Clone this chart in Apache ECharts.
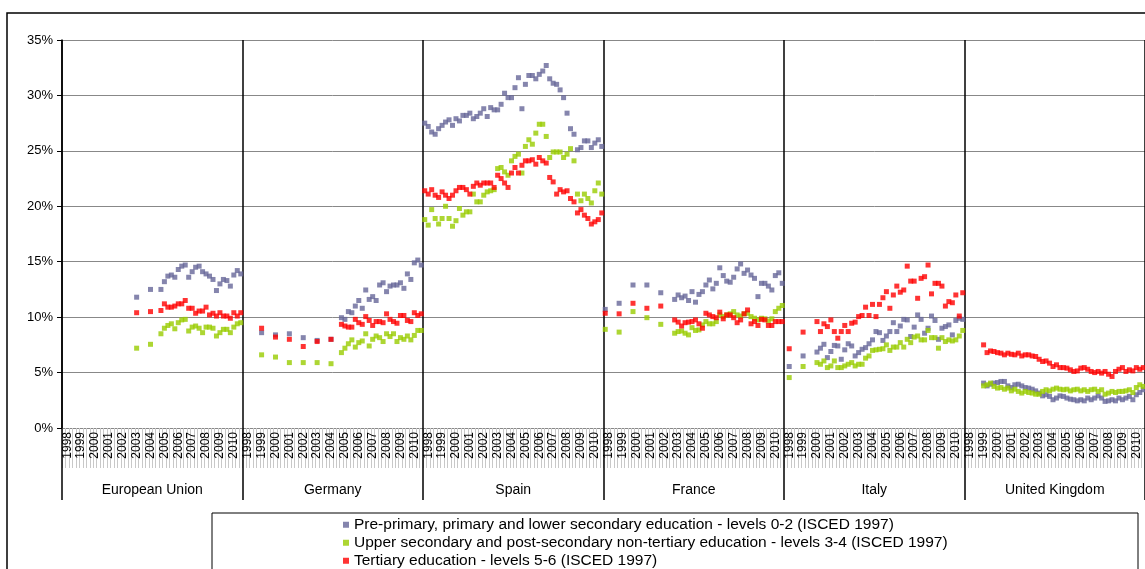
<!DOCTYPE html>
<html>
<head>
<meta charset="utf-8">
<title>Education levels by country</title>
<script src="https://cdn.jsdelivr.net/npm/echarts@6/dist/echarts.min.js"></script>
<style>
  html, body { margin: 0; padding: 0; background: #fff; }
  #chart { width: 1145px; height: 569px; }
</style>
</head>
<body>
<div id="chart"></div>
<script>
const _ = null;

// panels and quarterly axis (1998Q1 - 2010Q4 per panel)
const countries = ["European Union", "Germany", "Spain", "France", "Italy", "United Kingdom"];
const years = ["1998", "1999", "2000", "2001", "2002", "2003", "2004", "2005", "2006", "2007", "2008", "2009", "2010"];
const seriesNames = [
  "Pre-primary, primary and lower secondary education - levels 0-2 (ISCED 1997)",
  "Upper secondary and post-secondary non-tertiary education - levels 3-4 (ISCED 1997)",
  "Tertiary education - levels 5-6 (ISCED 1997)"
];

// values in %, one entry per quarter, _ = no data
const euLow  = [_,_,_,_,_,_,_,_,_,_,_,_,_,_,_,_,_,_,_,_,_, 11.8,_,_,_, 12.5,_,_, 12.5, 13.2, 13.7, 13.8, 13.6, 14.3, 14.6, 14.7, 13.6, 14.1, 14.5, 14.6, 14.1, 13.9, 13.7, 13.4, 12.4, 13.0, 13.4, 13.3, 12.8, 13.8, 14.2, 13.9];
const euMid  = [_,_,_,_,_,_,_,_,_,_,_,_,_,_,_,_,_,_,_,_,_, 7.2,_,_,_, 7.55,_,_, 8.5, 9.0, 9.25, 9.4, 8.95, 9.5, 9.75, 9.8, 8.75, 9.1, 9.2, 9.0, 8.6, 9.1, 9.1, 9.0, 8.3, 8.6, 8.9, 8.9, 8.6, 9.1, 9.4, 9.5];
const euHigh = [_,_,_,_,_,_,_,_,_,_,_,_,_,_,_,_,_,_,_,_,_, 10.4,_,_,_, 10.5,_,_, 10.6, 11.2, 10.9, 10.9, 11.0, 11.2, 11.2, 11.5, 10.8, 10.8, 10.35, 10.55, 10.55, 10.9, 10.2, 10.35, 10.1, 10.4, 10.1, 10.1, 9.9, 10.4, 10.1, 10.4];

const deLow  = [_,_,_,_,_, 8.6,_,_,_, 8.4,_,_,_, 8.5,_,_,_, 8.15,_,_,_, 7.9,_,_,_, 8.0,_,_, 9.95, 9.8, 10.5, 10.4, 11.0, 11.5, 10.8, 12.45, 11.6, 11.85, 11.5, 12.9, 13.1, 12.3, 12.8, 12.9, 12.9, 13.1, 12.6, 13.9, 13.4, 14.9, 15.15, 14.7];
const deMid  = [_,_,_,_,_, 6.6,_,_,_, 6.4,_,_,_, 5.9,_,_,_, 5.9,_,_,_, 5.9,_,_,_, 5.8,_,_, 6.8, 7.2, 7.6, 7.95, 7.3, 7.7, 7.85, 8.5, 7.4, 8.0, 8.3, 8.15, 7.8, 8.5, 8.25, 8.5, 7.8, 8.15, 8.0, 8.3, 7.95, 8.35, 8.8, 8.8];
const deHigh = [_,_,_,_,_, 9.0,_,_,_, 8.2,_,_,_, 8.0,_,_,_, 7.35,_,_,_, 7.8,_,_,_, 8.0,_,_, 9.35, 9.2, 9.1, 9.1, 9.8, 9.5, 9.35, 10.05, 9.7, 9.25, 9.6, 9.6, 9.5, 10.3, 9.8, 9.6, 9.45, 10.15, 10.15, 9.7, 9.6, 10.4, 10.15, 10.3];

const esLow  = [27.5, 27.2, 26.7, 26.5, 27.0, 27.3, 27.6, 27.8, 27.3, 27.9, 27.7, 28.2, 28.2, 28.4, 27.9, 28.1, 28.4, 28.8, 28.1, 28.9, 28.7, 28.7, 29.2, 30.2, 29.8, 29.8, 30.7, 31.6, 28.8, 31.0, 31.8, 31.8, 31.5, 31.9, 32.2, 32.7, 31.5, 31.1, 31.0, 30.5, 29.8, 28.4, 27.0, 26.5, 25.1, 25.3, 25.9, 25.9, 25.3, 25.7, 26.0, 25.4];
const esMid  = [18.8, 18.3, 19.7, 18.9, 18.4, 18.9, 20.0, 18.9, 18.2, 18.7, 19.8, 19.2, 19.5, 19.5, 21.1, 20.4, 20.4, 21.0, 21.3, 21.4, 21.5, 23.4, 23.5, 23.1, 22.8, 24.1, 24.5, 24.7, 23.0, 25.4, 26.0, 25.6, 26.6, 27.4, 27.4, 26.3, 24.4, 24.9, 24.9, 24.9, 24.4, 24.7, 25.2, 24.1, 21.1, 20.5, 21.1, 20.7, 20.3, 21.4, 22.1, 21.1];
const esHigh = [21.4, 21.1, 21.5, 21.0, 20.8, 21.3, 21.0, 20.7, 21.0, 21.4, 21.7, 21.7, 21.5, 21.1, 21.8, 22.1, 21.9, 22.1, 22.1, 22.1, 21.7, 22.8, 22.5, 22.1, 21.7, 23.0, 23.5, 23.0, 23.7, 24.1, 24.1, 24.2, 23.8, 24.4, 24.1, 23.9, 22.6, 22.2, 21.1, 21.5, 21.3, 21.4, 20.7, 20.4, 19.4, 19.7, 19.2, 18.9, 18.4, 18.6, 18.8, 19.4];

const frLow  = [10.7,_,_,_, 11.25,_,_,_, 12.9,_,_,_, 12.9,_,_,_, 12.2,_,_,_, 11.6, 12.0, 11.75, 11.9, 11.5, 12.3, 11.35, 12.05, 12.3, 12.9, 13.35, 12.55, 13.05, 14.45, 13.75, 13.25, 13.15, 13.6, 14.35, 14.8, 13.95, 14.25, 13.8, 13.5, 11.85, 13.05, 13.05, 12.8, 12.45, 13.75, 14.0, 13.05];
const frMid  = [8.9,_,_,_, 8.65,_,_,_, 10.5,_,_,_, 9.95,_,_,_, 9.35,_,_,_, 8.55, 8.7, 8.75, 8.55, 8.4, 9.05, 8.8, 8.85, 9.3, 9.6, 9.4, 9.4, 9.6, 10.2, 10.05, 10.2, 10.3, 10.5, 10.2, 10.1, 10.3, 10.35, 10.05, 9.9, 9.75, 9.9, 9.85, 9.65, 9.85, 10.5, 10.8, 11.05];
const frHigh = [10.35,_,_,_, 10.3,_,_,_, 11.25,_,_,_, 10.8,_,_,_, 11.0,_,_,_, 9.75, 9.55, 9.2, 9.5, 9.55, 9.6, 9.75, 9.4, 9.0, 10.35, 10.2, 10.05, 9.95, 10.45, 9.85, 10.2, 10.2, 9.95, 9.5, 9.75, 10.3, 10.65, 9.4, 9.6, 9.25, 9.8, 9.75, 9.25, 9.25, 9.6, 9.6, 9.6];

const itLow  = [_, 5.55,_,_,_, 6.5,_,_,_, 6.85, 7.2, 7.55, 6.35, 6.9, 7.45, 7.4, 6.2, 7.05, 7.6, 7.4, 6.5, 6.8, 7.1, 7.25, 7.6, 7.95, 8.7, 8.6, 7.9, 8.3, 8.7, 9.5, 8.7, 9.2, 9.8, 9.75, 8.25, 9.1, 10.2, 9.8, 8.55, 9.0, 10.1, 9.7, 8.0, 9.0, 9.15, 9.3, 8.4, 9.7, 9.9, 9.8];
const itMid  = [_, 4.55,_,_,_, 5.55,_,_,_, 5.9, 5.75, 6.05, 5.45, 5.6, 6.05, 5.45, 5.45, 5.6, 5.75, 5.9, 5.6, 5.75, 5.75, 6.3, 6.5, 7.0, 7.05, 7.1, 7.15, 7.5, 7.0, 7.3, 7.3, 7.7, 7.3, 8.0, 7.7, 8.2, 8.3, 7.95, 7.95, 8.8, 8.15, 8.15, 7.2, 8.15, 7.8, 7.95, 7.85, 7.95, 8.3, 8.8];
const itHigh = [_, 7.15,_,_,_, 8.65,_,_,_, 9.6, 8.7, 9.4, 9.15, 9.75, 8.7, 8.1, 8.7, 9.25, 8.7, 9.45, 9.55, 10.05, 10.15, 10.9, 10.15, 11.15, 10.05, 11.15, 11.75, 12.3, 10.8, 12.0, 12.8, 12.25, 12.45, 14.6, 13.25, 13.25, 11.7, 13.5, 13.65, 14.7, 12.1, 13.05, 13.05, 12.8, 11.0, 11.4, 11.3, 12.0, 10.1, 12.2];

const ukLow  = [_,_,_,_,_, 4.05, 3.8, 3.95, 4.05, 4.1, 4.2, 4.2, 3.8, 3.65, 3.9, 3.95, 3.8, 3.65, 3.6, 3.5, 3.35, 3.15, 2.9, 3.0, 2.85, 2.55, 2.7, 2.9, 2.85, 2.7, 2.6, 2.55, 2.45, 2.55, 2.45, 2.7, 2.55, 2.7, 2.9, 2.7, 2.4, 2.45, 2.55, 2.45, 2.7, 2.55, 2.7, 2.85, 2.55, 3.0, 3.2, 3.45];
const ukMid  = [_,_,_,_,_, 3.8, 3.9, 4.05, 3.75, 3.6, 3.65, 3.5, 3.6, 3.35, 3.5, 3.3, 3.15, 3.3, 3.2, 3.15, 3.05, 3.05, 3.3, 3.45, 3.35, 3.5, 3.6, 3.5, 3.45, 3.5, 3.35, 3.45, 3.5, 3.35, 3.45, 3.3, 3.45, 3.5, 3.3, 3.45, 3.05, 3.15, 3.3, 3.2, 3.3, 3.3, 3.35, 3.45, 3.2, 3.65, 3.9, 3.75];
const ukHigh = [_,_,_,_,_, 7.5, 6.8, 6.95, 6.9, 6.8, 6.75, 6.6, 6.75, 6.65, 6.6, 6.75, 6.5, 6.6, 6.6, 6.5, 6.45, 6.2, 6.0, 6.05, 5.85, 5.55, 5.7, 5.45, 5.45, 5.4, 5.25, 5.1, 5.15, 5.4, 5.45, 5.3, 5.1, 5.0, 5.1, 4.95, 5.1, 4.85, 4.65, 5.1, 5.3, 5.45, 5.1, 5.25, 5.15, 5.45, 5.3, 5.45];

const colors = ["#666699", "#99cc00", "#ff0000"];
const font = "Arial, 'Liberation Sans', sans-serif";

// one category per quarter, labelled with its year
const quarters = [];
countries.forEach(function () {
  years.forEach(function (y) {
    quarters.push(y, y, y, y);
  });
});

const lowData = [].concat(euLow, deLow, esLow, frLow, itLow, ukLow);
const midData = [].concat(euMid, deMid, esMid, frMid, itMid, ukMid);
const highData = [].concat(euHigh, deHigh, esHigh, frHigh, itHigh, ukHigh);

const chart = echarts.init(document.getElementById("chart"));

const option = {
  animation: false,
  backgroundColor: "#fff",
  textStyle: { fontFamily: font },
  color: colors,
  grid: { left: 62, top: 40, right: -2, bottom: 141 },
  legend: {
    orient: "vertical",
    left: 343,
    top: 516,
    height: 60,
    padding: 0,
    itemWidth: 6,
    itemHeight: 6,
    itemGap: 0.5,
    icon: "rect",
    selectedMode: false,
    textStyle: { fontSize: 15.5, lineHeight: 17.5, color: "#000", fontFamily: font },
    data: seriesNames
  },
  xAxis: [
    {
      type: "category",
      data: quarters,
      boundaryGap: true,
      axisLine: { lineStyle: { color: "#888", width: 1 } },
      axisTick: { show: true, interval: 0, length: 40, lineStyle: { color: "#c8c8c8" } },
      axisLabel: {
        interval: function (index) { return index % 4 === 1; },
        rotate: 90,
        margin: 4,
        fontSize: 12,
        color: "#000"
      },
      splitLine: { show: false }
    },
    {
      type: "category",
      data: countries,
      position: "bottom",
      boundaryGap: true,
      axisLine: { show: false },
      axisTick: { show: true, length: 72, lineStyle: { color: "#000", width: 1.5 } },
      axisLabel: { margin: 55, fontSize: 14, color: "#000" },
      splitLine: { show: true, lineStyle: { color: "#000", width: 1.5 } }
    }
  ],
  yAxis: {
    type: "value",
    min: 0,
    max: 35,
    interval: 5,
    axisLine: { show: true, lineStyle: { color: "#000", width: 1.5 } },
    axisTick: { show: true, length: 5, lineStyle: { color: "#000" } },
    axisLabel: { formatter: "{value}%", fontSize: 13, color: "#000", margin: 9 },
    splitLine: { lineStyle: { color: "#888", width: 1 } }
  },
  graphic: [
    {
      type: "rect",
      z: -10,
      shape: { x: 7, y: 13, width: 1160, height: 600 },
      style: { fill: "none", stroke: "#000", lineWidth: 1.5 }
    },
    {
      type: "rect",
      z: 1,
      shape: { x: 212, y: 513, width: 926, height: 70 },
      style: { fill: "#fff", stroke: "#000", lineWidth: 1 }
    }
  ],
  series: [
    { name: seriesNames[0], type: "scatter", symbol: "rect", symbolSize: 5, data: lowData },
    { name: seriesNames[1], type: "scatter", symbol: "rect", symbolSize: 5, data: midData },
    { name: seriesNames[2], type: "scatter", symbol: "rect", symbolSize: 5, data: highData }
  ]
};

chart.setOption(option);
</script>
</body>
</html>
